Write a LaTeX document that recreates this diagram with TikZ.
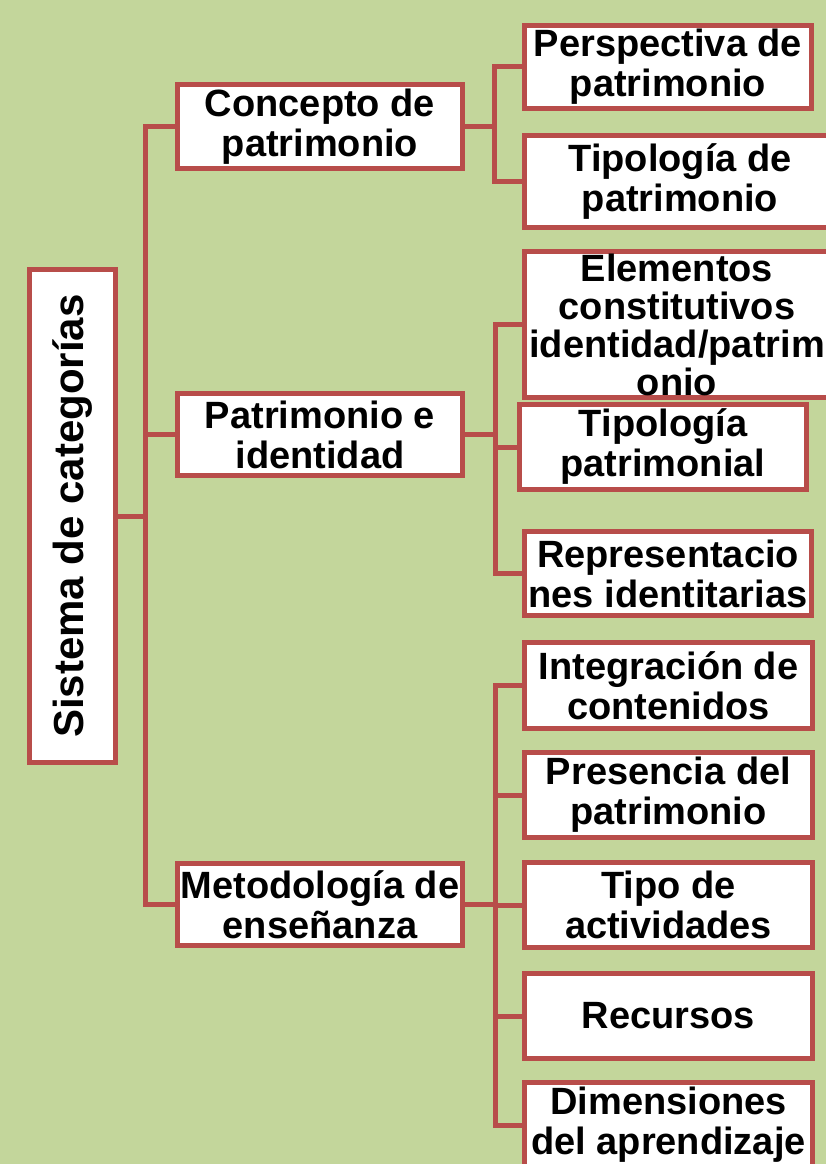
\documentclass[tikz,border=0pt]{standalone}
\usepackage{fontspec}
\usepackage{graphicx}
\setmainfont{Liberation Sans}
\definecolor{fondo}{HTML}{C3D69B}
\definecolor{rojo}{HTML}{B84D4A}
\begin{document}
\begin{tikzpicture}[x=1pt, y=-1pt,
    caja/.style={draw=rojo, line width=4.8pt, fill=white, align=center, inner sep=2pt,
      font=\bfseries\fontsize{38}{40}\selectfont},
    rama/.style={draw=rojo, line width=5pt}]
          \useasboundingbox (0,0) rectangle (826,1164);
          \clip (0,0) rectangle (826,1164);
          \fill[fondo] (0,0) rectangle (826,1164);

          % raiz
          \node[caja, minimum width=86.5pt, minimum height=493.5pt, font=\bfseries\fontsize{42}{44}\selectfont]
            (raiz) at (72.5,516) {\rotatebox{90}{Sistema de categorías}};

          % primer nivel
          \node[caja, minimum width=285.5pt, minimum height=84.5pt] (concepto) at (320,126.5) {Concepto de\\patrimonio};
          \node[caja, minimum width=285.5pt, minimum height=82.5pt] (patrimonio) at (320,434.5) {Patrimonio e\\identidad};
          \node[caja, minimum width=285.5pt, minimum height=82.5pt] (metodo) at (320,904.5) {Metodología de\\enseñanza};

          % segundo nivel
          \node[caja, minimum width=287.5pt, minimum height=83.5pt] (persp) at (668,67) {Perspectiva de\\patrimonio};
          \node[caja, minimum width=311.5pt, minimum height=92.5pt] (tipoA) at (680,181.5) {Tipología de\\patrimonio};

          \node[caja, minimum width=305.5pt, minimum height=140.5pt, font=\bfseries\fontsize{38}{38}\selectfont]
            (elem) at (677,324.5) {Elementos\\constitutivos\\identidad/patrim\\onio};
          \node[caja, minimum width=287.5pt, minimum height=85.5pt] (tipoB) at (663,447) {Tipología\\patrimonial};
          \node[caja, minimum width=287.5pt, minimum height=84.5pt] (repr) at (668,573.5) {Representacio\\nes identitarias};

          \node[caja, minimum width=288.5pt, minimum height=85.5pt] (integ) at (668.5,685.5) {Integración de\\contenidos};
          \node[caja, minimum width=288.5pt, minimum height=85.5pt] (pres) at (668.5,795) {Presencia del\\patrimonio};
          \node[caja, minimum width=288.5pt, minimum height=85.5pt] (tipoact) at (668.5,905) {Tipo de\\actividades};
          \node[caja, minimum width=288.5pt, minimum height=85.5pt] (recur) at (668.5,1016) {Recursos};
          \node[caja, minimum width=288.5pt, minimum height=85.5pt] (dimen) at (668.5,1125) {Dimensiones\\del aprendizaje};

          \draw[rama] (raiz.east) -- ++(27,0) |- (concepto.west);
          \draw[rama] (raiz.east) -- ++(27,0) |- (patrimonio.west);
          \draw[rama] (raiz.east) -- ++(27,0) |- (metodo.west);

          \draw[rama] (concepto.east) -- ++(29,0) |- (persp.west);
          \draw[rama] (concepto.east) -- ++(29,0) |- (tipoA.west);

          \draw[rama] (patrimonio.east) -- ++(30,0) |- (elem.west);
          \draw[rama] (patrimonio.east) -- ++(30,0) |- (tipoB.west);
          \draw[rama] (patrimonio.east) -- ++(30,0) |- (repr.west);

          \draw[rama] (metodo.east) -- ++(30,0) |- (integ.west);
          \draw[rama] (metodo.east) -- ++(30,0) |- (pres.west);
          \draw[rama] (metodo.east) -- ++(30,0) |- (tipoact.west);
          \draw[rama] (metodo.east) -- ++(30,0) |- (recur.west);
          \draw[rama] (metodo.east) -- ++(30,0) |- (dimen.west);

        \end{tikzpicture}
\end{document}
